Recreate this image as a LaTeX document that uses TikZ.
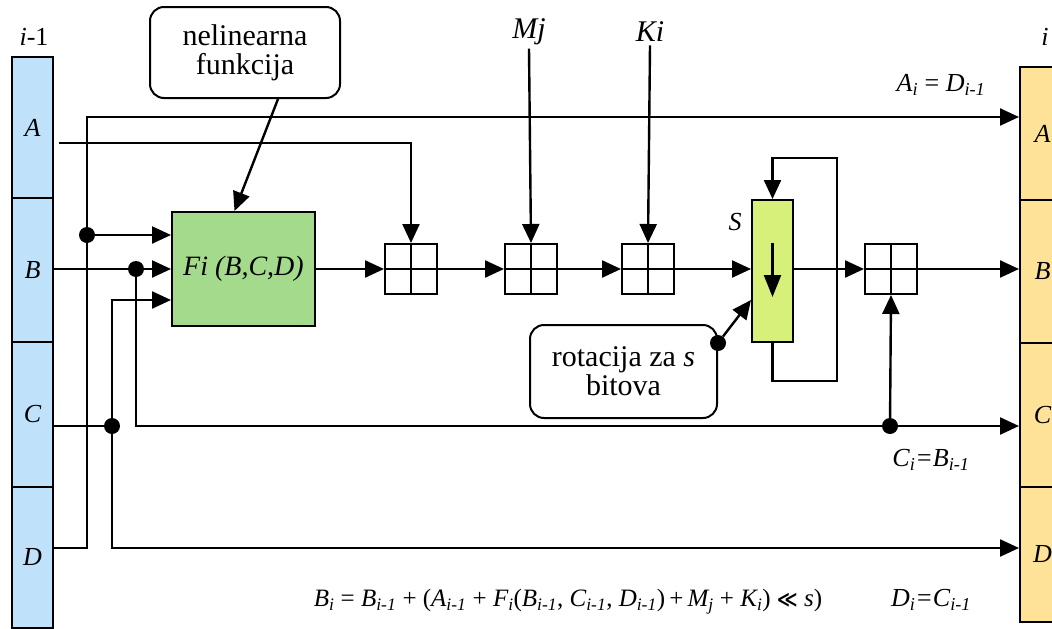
\documentclass[tikz,border=0pt]{standalone}
\usepackage{fontspec}
\setmainfont{Liberation Serif}
\newfontfamily\djv{DejaVu Sans}
\usetikzlibrary{arrows.meta,calc}
\newcommand{\sbx}[1]{\textsubscript{#1}}
\definecolor{bluereg}{RGB}{191,226,250}
\definecolor{yelreg}{RGB}{253,226,152}
\definecolor{figreen}{RGB}{164,218,140}
\definecolor{limeg}{RGB}{214,240,122}
\begin{document}
\begin{tikzpicture}[x=1pt,y=-1pt,
  wire/.style={line width=2.4pt},
  arr/.style={wire,-{Triangle[length=19pt,width=17pt]}},
  regl/.style={draw,line width=2pt,fill=bluereg,minimum width=41pt,inner sep=0pt,font=\fontsize{26}{28}\selectfont\itshape},
  regr/.style={draw,line width=2pt,fill=yelreg,minimum width=45pt,inner sep=0pt,font=\fontsize{26}{28}\selectfont\itshape},
  adder/.style={draw,line width=2pt,minimum width=52pt,minimum height=50pt,inner sep=0pt,
    path picture={\draw[line width=2pt] (path picture bounding box.north) -- (path picture bounding box.south)
      (path picture bounding box.west) -- (path picture bounding box.east);}},
  dot/.style={circle,fill=black,inner sep=0pt,minimum size=16pt},
  note/.style={draw,line width=2pt,rounded corners=14pt,align=center,inner sep=0pt,font=\fontsize{30}{29}\selectfont},
  big/.style={font=\fontsize{28}{30}\selectfont\itshape},
  small/.style={font=\fontsize{26}{28}\selectfont},
]
\useasboundingbox (0,0) rectangle (1052,629);
% registers
\node[regl,minimum height=141pt] (LA) at (32.5,127.5) {A};
\node[regl,minimum height=144pt] (LB) at (32.5,270) {B};
\node[regl,minimum height=145pt] (LC) at (32.5,414.5) {C};
\node[regl,minimum height=141pt] (LD) at (32.5,557.5) {D};
\node[regr,minimum height=133pt] (RA) at (1042.5,133.5) {A};
\node[regr,minimum height=143pt] (RB) at (1042.5,271.5) {B};
\node[regr,minimum height=144pt] (RC) at (1042.5,415) {C};
\node[regr,minimum height=135pt] (RD) at (1042.5,554.5) {D};
% blocks
\node[draw,line width=2pt,fill=figreen,minimum width=143pt,minimum height=114pt,inner sep=0pt,big] (Fi) at (243.5,269) {Fi (B,C,D)};
\node[adder] (add1) at (411,269) {};
\node[adder] (add2) at (531,269) {};
\node[adder] (add3) at (648,269) {};
\node[adder] (add4) at (891,269) {};
\node[draw,line width=2pt,fill=limeg,minimum width=41pt,minimum height=142pt,inner sep=0pt] (rot) at (772.5,271) {};
\node[note,minimum width=190pt,minimum height=91pt] (nel) at (245,52.5) {nelinearna\\funkcija};
\node[note,minimum width=187pt,minimum height=93pt] (rlab) at (623.5,371.5) {rotacija za \textit{s}\\bitova};
\node[big,font=\fontsize{30}{30}\selectfont\itshape] (Mj) at (529,32) {Mj};
\node[big,font=\fontsize{30}{30}\selectfont\itshape] (Ki) at (650,32) {Ki};
% labels
\node[small] (im1) at (34,37) {\textit{i}-1};
\node[small] (ii) at (1045,37) {\textit{i}};
\node[small] (S) at (735,222) {\textit{S}};
\node[small] (eqA) at (941,85) {\textit{A\sbx{i}} = \textit{D\sbx{i-1}}};
\node[small] (eqC) at (931,460) {\textit{C\sbx{i}=B\sbx{i-1}}};
\node[small] (eqD) at (931,600) {\textit{D\sbx{i}=C\sbx{i-1}}};
\node[font=\fontsize{25}{27}\selectfont] (eqB) at (568,602) {\textit{B\sbx{i}} = \textit{B\sbx{i-1}} + (\textit{A\sbx{i-1}} + \textit{F\sbx{i}}(\textit{B\sbx{i-1}}, \textit{C\sbx{i-1}}, \textit{D\sbx{i-1}})\,+\,\textit{M\sbx{j}} + \textit{K\sbx{i}}) {\djv\bfseries\fontsize{20}{22}\selectfont ≪} \textit{s})};
% coordinates
\coordinate (rTop) at (87,117);
\coordinate (rA) at (59,143);
\coordinate (rD) at (0,548);
\coordinate (rF3) at (0,300);
\coordinate (rBC) at (0,426);
\coordinate (lpBot) at (0,381);
\coordinate (lpR) at (837,158);
% wires
\draw[arr] (LD.east |- rD) -| (rTop) -- (RA.west |- rTop);
\draw[arr] (rA) -| (add1.north);
\draw[arr] (LB.east |- add1.west) -- (Fi.west |- add1.west);
\draw[wire] (LC.east |- rBC) -- (112,426);
\node[dot] (dA) at (87,235) {};
\node[dot] (dB) at (136,269) {};
\node[dot] (dC) at (112,426) {};
\node[dot] (dC2) at (890,426) {};
\node[dot] (dR) at (718,343) {};
\draw[arr] (dA) -- (Fi.west |- dA);
\draw[arr] (dB) |- (RC.west |- rBC);
\draw[arr] (dC) |- (Fi.west |- rF3);
\draw[arr] (dC) |- (RD.west |- rD);
\draw[arr] (Fi.east) -- (add1.west);
\draw[arr] (add1.east) -- (add2.west);
\draw[arr] (add2.east) -- (add3.west);
\draw[arr] (add3.east) -- (rot.west |- add3.east);
\draw[arr] (rot.east |- add4.west) -- (add4.west);
\draw[arr] (add4.east) -- (RB.west |- add4.east);
\draw[arr] (Mj.south) -- (add2.north);
\draw[arr] (Ki.south) -- (add3.north);
\draw[arr] (rot.south) -- (rot.south |- lpBot) -| (lpR) -| (rot.north);
\draw[arr] (dR) -- (rot.west |- rF3);
\draw[arr] (dC2) -- (add4.south);
\draw[arr] ($(nel.south)+(33,0)$) -- ($(Fi.north)+(-9,0)$);
\draw[arr,-{Triangle[length=22pt,width=17pt]}] ($(rot.center)+(0,-28)$) -- ($(rot.center)+(0,26)$);
\end{tikzpicture}
\end{document}
